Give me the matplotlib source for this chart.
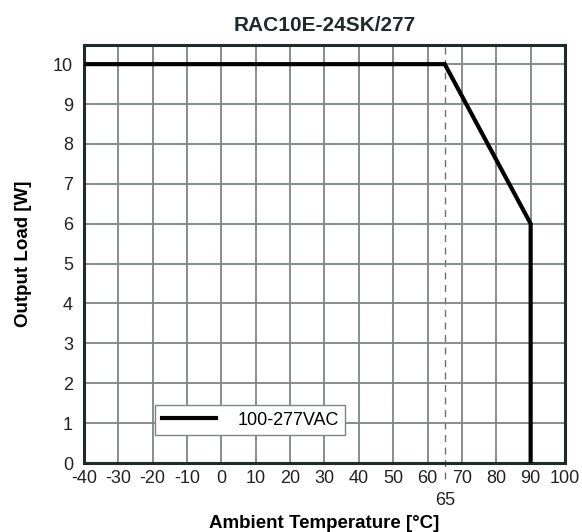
import matplotlib
matplotlib.use("Agg")
import matplotlib.pyplot as plt

# derating curve data
temps = [-40, 65, 90, 90]
loads = [10, 10, 6, 0]
x_ticks = list(range(-40, 101, 10))
y_ticks = list(range(0, 11))
knee_temp = 65

plt.rcParams["font.family"] = ["Liberation Sans", "DejaVu Sans"]
plt.rcParams["axes.unicode_minus"] = False

fig = plt.figure(figsize=(5.82, 5.32), dpi=100)
ax = fig.add_axes([84 / 582, 1 - 463 / 532, (565 - 84) / 582, (463 - 45) / 532])

ax.set_xlim(-40, 100)
ax.set_ylim(0, 10.48)
ax.set_xticks(x_ticks)
ax.set_yticks(y_ticks)
ax.grid(True, color="#7d8584", linewidth=1.3)
ax.tick_params(length=0, labelsize=13, colors="#222222")
ax.tick_params(axis="x", pad=5)
ax.tick_params(axis="y", pad=8)

for s in ax.spines.values():
    s.set_color("#1f2a2a")
    s.set_linewidth(2.2)

# dashed marker for the derating knee, running down past the axis to its label
ax.plot([knee_temp, knee_temp], [-0.4, 10.48], color="#707070", linewidth=1,
        linestyle=(0, (5, 4)), clip_on=False, zorder=1)
ax.plot(temps, loads, color="black", linewidth=3, label="100-277VAC",
        solid_joinstyle="miter", zorder=5)

ax.text(knee_temp, -0.72, "65", ha="center", va="top", fontsize=13,
        color="#222222")

ax.set_title("RAC10E-24SK/277", fontsize=15, fontweight="bold", pad=10,
             color="#1f2a2a")
ax.set_xlabel("Ambient Temperature [°C]", fontsize=13.5, fontweight="bold",
              labelpad=20)
ax.set_ylabel("Output Load [W]", fontsize=13.5, fontweight="bold", labelpad=15)

leg = ax.legend(loc="lower left", bbox_to_anchor=(0.148, 0.067), fontsize=13,
                frameon=True, fancybox=False, handlelength=3.0,
                borderpad=0.35, handletextpad=1.2, borderaxespad=0)
leg.get_frame().set_edgecolor("#7d8584")
leg.get_frame().set_linewidth(1.0)
leg.get_frame().set_alpha(1)

fig.savefig("out.png", dpi=100)
